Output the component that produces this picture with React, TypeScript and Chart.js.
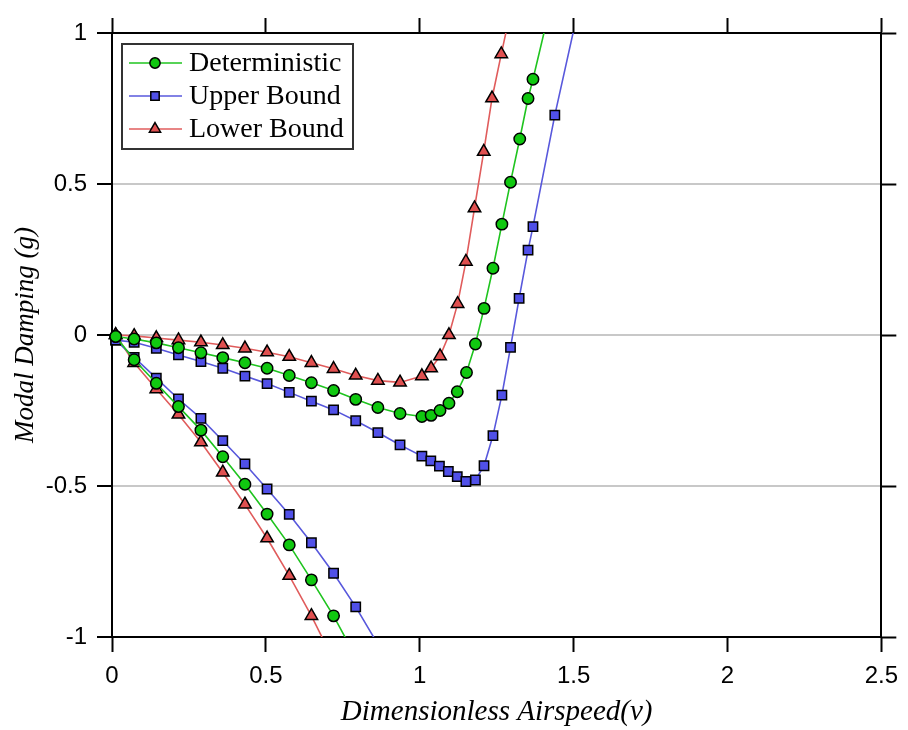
import React, { useEffect, useRef } from 'react';
import { Chart, registerables } from 'chart.js';

Chart.register(...registerables);

// ---------------- data ----------------
const seriesNames = ['Deterministic', 'Upper Bound', 'Lower Bound'];
const xTickValues = [0, 0.5, 1, 1.5, 2, 2.5];
const yTickValues = [-1, -0.5, 0, 0.5, 1];

// Deterministic (green)
const detUpperV = [0.012, 0.072, 0.144, 0.216, 0.289, 0.36, 0.432, 0.504, 0.576, 0.648, 0.72, 0.792, 0.864, 0.936, 1.007, 1.037, 1.066, 1.095, 1.122, 1.152, 1.181, 1.209, 1.238, 1.267, 1.295, 1.325, 1.352, 1.368, 1.427];
const detUpperG = [-0.005, -0.013, -0.026, -0.042, -0.059, -0.075, -0.092, -0.11, -0.134, -0.158, -0.184, -0.213, -0.24, -0.26, -0.27, -0.266, -0.25, -0.226, -0.188, -0.124, -0.03, 0.088, 0.221, 0.367, 0.506, 0.649, 0.783, 0.847, 1.1];
const detLowerV = [0.012, 0.072, 0.144, 0.216, 0.289, 0.36, 0.432, 0.504, 0.576, 0.648, 0.72, 0.81];
const detLowerG = [-0.005, -0.082, -0.16, -0.237, -0.315, -0.403, -0.494, -0.593, -0.695, -0.811, -0.93, -1.1];

// Upper Bound (blue)
const upUpperV = [0.012, 0.072, 0.144, 0.216, 0.289, 0.36, 0.432, 0.504, 0.576, 0.648, 0.72, 0.792, 0.864, 0.936, 1.007, 1.036, 1.064, 1.093, 1.122, 1.15, 1.181, 1.209, 1.238, 1.267, 1.295, 1.323, 1.352, 1.368, 1.439, 1.52];
const upUpperG = [-0.017, -0.024, -0.044, -0.066, -0.088, -0.11, -0.136, -0.161, -0.19, -0.219, -0.248, -0.284, -0.323, -0.364, -0.401, -0.417, -0.434, -0.452, -0.469, -0.485, -0.48, -0.433, -0.333, -0.199, -0.041, 0.121, 0.281, 0.359, 0.728, 1.1];
const upLowerV = [0.012, 0.072, 0.144, 0.216, 0.289, 0.36, 0.432, 0.504, 0.576, 0.648, 0.72, 0.792, 0.908];
const upLowerG = [-0.017, -0.074, -0.143, -0.212, -0.276, -0.35, -0.427, -0.51, -0.594, -0.688, -0.789, -0.9, -1.1];

// Lower Bound (red)
const lowUpperV = [0.012, 0.072, 0.144, 0.216, 0.289, 0.36, 0.432, 0.504, 0.576, 0.648, 0.72, 0.792, 0.864, 0.936, 1.007, 1.037, 1.066, 1.095, 1.123, 1.15, 1.178, 1.208, 1.235, 1.265, 1.301];
const lowUpperG = [0, -0.003, -0.01, -0.017, -0.024, -0.033, -0.044, -0.057, -0.072, -0.092, -0.112, -0.134, -0.151, -0.157, -0.136, -0.11, -0.07, 0.0, 0.103, 0.243, 0.42, 0.607, 0.784, 0.93, 1.1];
const lowLowerV = [0.012, 0.072, 0.144, 0.216, 0.289, 0.36, 0.432, 0.504, 0.576, 0.648, 0.731];
const lowLowerG = [0, -0.092, -0.179, -0.263, -0.355, -0.455, -0.561, -0.673, -0.797, -0.93, -1.1];

// ---------------- styles ----------------
const lineColors = ['#1fc41f', '#5858dc', '#e05c5c'];
const fillColors = ['#10c810', '#5050e8', '#e05050'];
const markerStyles = ['circle', 'rect', 'triangle'];
const markerRadii = [5.7, 6.6, 7.2];

const zip = (v: number[], g: number[]) => v.map((x, i) => ({ x, y: g[i] }));

const branches = [
  { s: 0, v: detUpperV, g: detUpperG },
  { s: 0, v: detLowerV, g: detLowerG },
  { s: 1, v: upUpperV, g: upUpperG },
  { s: 1, v: upLowerV, g: upLowerG },
  { s: 2, v: lowUpperV, g: lowUpperG },
  { s: 2, v: lowLowerV, g: lowLowerG },
];

function drawMarker(ctx: CanvasRenderingContext2D, style: string, x: number, y: number, r: number) {
  ctx.beginPath();
  if (style === 'circle') {
    ctx.arc(x, y, r, 0, Math.PI * 2);
  } else if (style === 'rect') {
    const h = r * Math.SQRT1_2;
    ctx.rect(x - h, y - h, 2 * h, 2 * h);
  } else {
    ctx.moveTo(x, y - r);
    ctx.lineTo(x + 0.866 * r, y + 0.5 * r);
    ctx.lineTo(x - 0.866 * r, y + 0.5 * r);
    ctx.closePath();
  }
  ctx.fill();
  ctx.stroke();
}

const boxLegend = {
  id: 'boxLegend',
  afterDatasetsDraw(chart: any) {
    const ctx: CanvasRenderingContext2D = chart.ctx;
    const area = chart.chartArea;
    const bx = area.left + 10;
    const by = area.top + 11;
    const bw = 231;
    const bh = 105;
    ctx.save();
    ctx.fillStyle = '#ffffff';
    ctx.fillRect(bx, by, bw, bh);
    ctx.lineWidth = 2;
    ctx.strokeStyle = '#333333';
    ctx.strokeRect(bx, by, bw, bh);
    seriesNames.forEach((name, i) => {
      const y = by + 19 + i * 33;
      ctx.strokeStyle = lineColors[i];
      ctx.lineWidth = 1.5;
      ctx.beginPath();
      ctx.moveTo(bx + 7, y);
      ctx.lineTo(bx + 60, y);
      ctx.stroke();
      ctx.fillStyle = fillColors[i];
      ctx.strokeStyle = '#000';
      ctx.lineWidth = 1.5;
      drawMarker(ctx, markerStyles[i], bx + 33, y, markerRadii[i] * 0.9);
      ctx.fillStyle = '#000';
      ctx.font = '28px "Liberation Serif", "Times New Roman", serif';
      ctx.textBaseline = 'middle';
      ctx.textAlign = 'left';
      ctx.fillText(name, bx + 67, y + 1);
    });
    ctx.restore();
  },
};

const tickFont = { family: '"Liberation Sans Narrow", "Arial Narrow", "Liberation Sans", Arial, sans-serif', size: 24 };
const fmt = (v: any) => String(Number(v));

export default function App() {
  const canvasRef = useRef<HTMLCanvasElement | null>(null);

  useEffect(() => {
    const canvas = canvasRef.current;
    if (!canvas) return;
    const datasets = branches.map((b) => ({
      label: seriesNames[b.s],
      data: zip(b.v, b.g),
      borderColor: lineColors[b.s],
      backgroundColor: fillColors[b.s],
      borderWidth: 1.6,
      pointStyle: markerStyles[b.s] as any,
      pointRadius: markerRadii[b.s],
      pointBackgroundColor: fillColors[b.s],
      pointBorderColor: '#000000',
      pointBorderWidth: 1.5,
      tension: 0,
      fill: false,
      showLine: true,
      clip: { left: 12, top: 0, right: 0, bottom: 0 },
    }));

    const chart = new Chart(canvas, {
      type: 'line',
      data: { datasets },
      plugins: [boxLegend],
      options: {
        responsive: false,
        animation: false,
        events: [],
        layout: { padding: 0 },
        plugins: { legend: { display: false }, tooltip: { enabled: false } },
        scales: {
          x: {
            type: 'linear',
            position: 'bottom',
            min: xTickValues[0],
            max: xTickValues[xTickValues.length - 1],
            afterBuildTicks: (s: any) => { s.ticks = xTickValues.map((value) => ({ value })); },
            afterFit: (s: any) => { s.height = 93; },
            ticks: { font: tickFont, color: '#000', padding: 10, maxRotation: 0, callback: fmt },
            grid: { drawOnChartArea: false, tickLength: 15, tickWidth: 2, tickColor: '#000' },
            border: { display: true, color: '#000', width: 2 },
            title: {
              display: true,
              text: 'Dimensionless Airspeed(v)',
              color: '#000',
              font: { family: '"Liberation Serif", "Times New Roman", serif', size: 29, style: 'italic', lineHeight: 1 },
              padding: { top: 0, bottom: 3 },
            },
          },
          x2: {
            type: 'linear',
            position: 'top',
            min: xTickValues[0],
            max: xTickValues[xTickValues.length - 1],
            afterBuildTicks: (s: any) => { s.ticks = xTickValues.map((value) => ({ value })); },
            afterFit: (s: any) => { s.height = 33; },
            ticks: { display: false },
            grid: { drawOnChartArea: false, tickLength: 15, tickWidth: 2, tickColor: '#000' },
            border: { display: true, color: '#000', width: 2 },
          },
          y: {
            type: 'linear',
            position: 'left',
            min: yTickValues[0],
            max: yTickValues[yTickValues.length - 1],
            afterBuildTicks: (s: any) => { s.ticks = yTickValues.map((value) => ({ value })); },
            afterFit: (s: any) => { s.width = 112; },
            ticks: { font: tickFont, color: '#000', padding: 10, callback: fmt },
            grid: {
              drawOnChartArea: true,
              color: (c: any) => (c.tick && Math.abs(c.tick.value) < 0.9 ? '#c8c8c8' : 'rgba(0,0,0,0)'),
              lineWidth: 2,
              tickLength: 15,
              tickWidth: 2,
              tickColor: '#000',
            },
            border: { display: true, color: '#000', width: 2 },
            title: {
              display: true,
              text: 'Modal Damping (g)',
              color: '#000',
              font: { family: '"Liberation Serif", "Times New Roman", serif', size: 27, style: 'italic', lineHeight: 1 },
              padding: { top: 12, bottom: 0 },
            },
          },
          y2: {
            type: 'linear',
            position: 'right',
            min: yTickValues[0],
            max: yTickValues[yTickValues.length - 1],
            afterBuildTicks: (s: any) => { s.ticks = yTickValues.map((value) => ({ value })); },
            afterFit: (s: any) => { s.width = 19; },
            ticks: { display: false },
            grid: { drawOnChartArea: false, tickLength: 15, tickWidth: 2, tickColor: '#000' },
            border: { display: true, color: '#000', width: 2 },
          },
        },
      } as any,
    });
    return () => chart.destroy();
  }, []);

  return (
    <div style={{ position: 'absolute', left: 0, top: 0, width: 908, height: 730, background: '#fff' }}>
      <canvas ref={canvasRef} width={908} height={730} />
    </div>
  );
}
